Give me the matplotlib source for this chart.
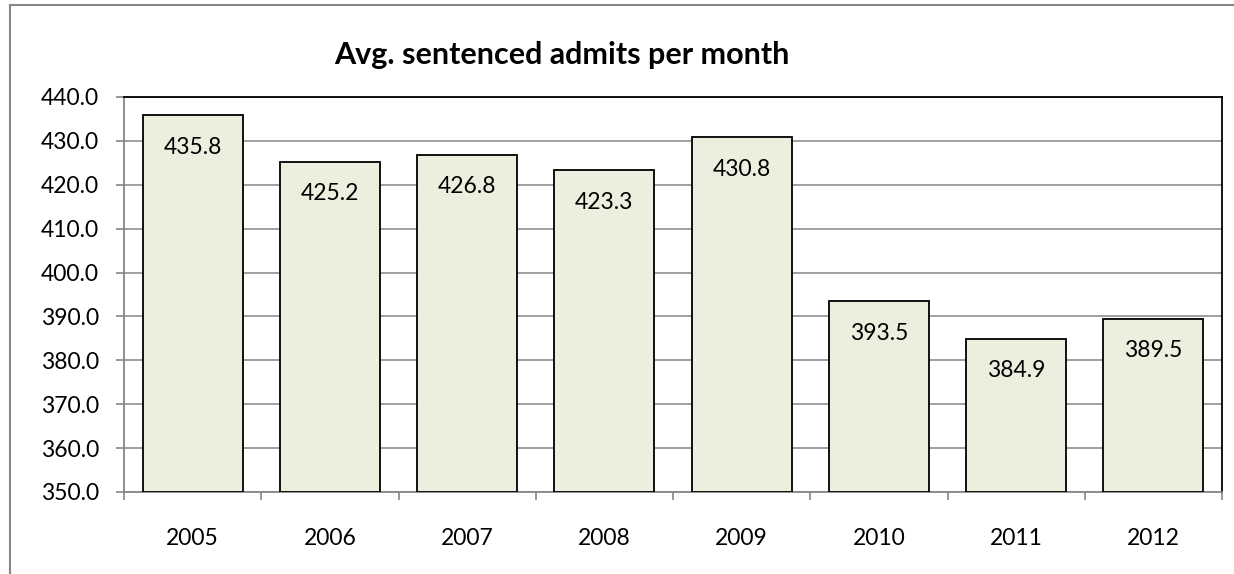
import matplotlib
matplotlib.use("Agg")
import matplotlib.pyplot as plt
from matplotlib.lines import Line2D

years = ["2005", "2006", "2007", "2008", "2009", "2010", "2011", "2012"]
admits = [435.8, 425.2, 426.8, 423.3, 430.8, 393.5, 384.9, 389.5]
y_ticks = [350, 360, 370, 380, 390, 400, 410, 420, 430, 440]
title = "Avg. sentenced admits per month"

plt.rcParams['font.family'] = ['Lato', 'DejaVu Sans']

fig = plt.figure(figsize=(12.34, 5.74), dpi=100)
ax = fig.add_axes([124/1234, 1-492/574, (1222-124)/1234, (492-97)/574])

x = list(range(len(years)))
ax.bar(x, [v - 350 for v in admits], bottom=350, width=0.73,
       color="#EBF0DE", edgecolor="black", linewidth=1.3, zorder=3)
for xi, v in zip(x, admits):
    ax.annotate(f"{v:.1f}", (xi, v), xytext=(0, -23), textcoords="offset points",
                ha="center", va="center", fontsize=16.5, zorder=4)

ax.set_xlim(-0.5, len(years) - 0.5)
ax.set_ylim(350, 440)
ax.set_yticks(y_ticks)
ax.set_yticklabels([f"{t:.1f}" for t in y_ticks], fontsize=16.5)
ax.yaxis.grid(True, color="#868686", linewidth=1.1, zorder=0)
ax.set_axisbelow(True)

ax.set_xticks([i + 0.5 for i in range(-1, len(years))], minor=False)
ax.set_xticklabels([])
ax.set_xticks(x, minor=True)
ax.set_xticklabels(years, minor=True, fontsize=16.5)
ax.tick_params(axis="x", which="minor", length=0, pad=26)
ax.tick_params(axis="x", which="major", length=6, width=1.2, color="#868686", direction="out")
ax.tick_params(axis="y", length=6, width=1.2, color="#868686", direction="out", pad=12)

for s in ("left", "bottom"):
    ax.spines[s].set_color("#868686")
    ax.spines[s].set_linewidth(1.3)
for s in ("top", "right"):
    ax.spines[s].set_color("black")
    ax.spines[s].set_linewidth(1.3)

fig.text(562/1234, 1-55/574, title, ha="center", va="center", fontsize=22, fontweight="bold")

# outer chart border (left and top visible)
fig.add_artist(Line2D([10/1234, 10/1234], [0, 1-5/574], transform=fig.transFigure,
                      color="#868686", linewidth=1.5))
fig.add_artist(Line2D([10/1234, 1233/1234], [1-5/574, 1-5/574], transform=fig.transFigure,
                      color="#868686", linewidth=1.5))

fig.savefig("out.png", dpi=100)
